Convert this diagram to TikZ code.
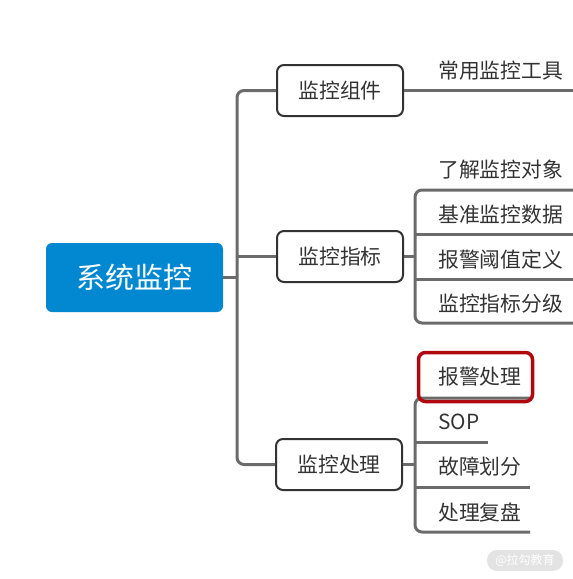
\documentclass[tikz,border=0pt]{standalone}
\usepackage{fontspec}
\setmainfont{Noto Sans CJK SC}
\begin{document}
\begin{tikzpicture}[x=1pt,y=-1pt,
  conn/.style={draw=linegray,line width=3pt},
  topic/.style={draw=boxdark,line width=2pt,rounded corners=7pt,minimum width=126pt,minimum height=51pt,inner sep=0pt,font=\fontsize{20.8}{22}\selectfont,text=textdark},
  leaf/.style={anchor=west,inner sep=0pt,font=\fontsize{20.8}{22}\selectfont,text=textdark}]
\definecolor{linegray}{HTML}{6B6B6B}
\definecolor{boxdark}{HTML}{333333}
\definecolor{textdark}{HTML}{333333}
\definecolor{rootblue}{HTML}{0288D1}
\definecolor{alarmred}{HTML}{B0080E}
\definecolor{wmgray}{HTML}{E3E3E3}
\useasboundingbox (0,0) rectangle (573,579);
% root
\node[fill=rootblue,rounded corners=6pt,minimum width=177pt,minimum height=69pt,inner sep=0pt,text=white,font=\fontsize{29}{31}\selectfont] (root) at (134.5,277.5) {系统监控};
% topics
\node[topic] (b1) at (340,90.5) {监控组件};
\node[topic] (b2) at (340,256.5) {监控指标};
\node[topic] (b3) at (339,464.5) {监控处理};
% trunk
\coordinate (t1) at (237,90.5);
\coordinate (t2) at (237,256.5);
\coordinate (t3) at (237,464.5);
\coordinate (tr) at (237,277.5);
\draw[conn,rounded corners=7pt] (b1.west) -- (t1) -- (t3) -- (b3.west);
\draw[conn] (root.east) -- (tr);
\draw[conn] (t2) -- (b2.west);
% group 1
\node[leaf] (l11) at (438,71) {常用监控工具};
\coordinate (e11) at (573,90.5);
\draw[conn] (b1.east) -- (e11);
% group 2
\node[leaf] (l21) at (438,170) {了解监控对象};
\node[leaf] (l22) at (438,214.5) {基准监控数据};
\node[leaf] (l23) at (438,259.5) {报警阈值定义};
\node[leaf] (l24) at (438,304) {监控指标分级};
\coordinate (v2) at (415,256.5);
\coordinate (v2a) at (415,190);
\coordinate (v2d) at (415,323);
\coordinate (v2b) at (415,234);
\coordinate (v2c) at (415,279);
\coordinate (e21) at (573,190);
\coordinate (e22) at (573,234);
\coordinate (e23) at (573,279);
\coordinate (e24) at (573,323);
\draw[conn,rounded corners=7pt] (e21) -- (v2a) -- (v2d) -- (e24);
\draw[conn] (v2b) -- (e22);
\draw[conn] (v2c) -- (e23);
\draw[conn] (b2.east) -- (v2);
% group 3
\node[leaf] (l31) at (438,377) {报警处理};
\node[leaf] (l32) at (438,422) {SOP};
\node[leaf] (l33) at (438,467) {故障划分};
\node[leaf] (l34) at (438,512) {处理复盘};
\coordinate (v3) at (415,464.5);
\coordinate (v3a) at (415,398);
\coordinate (v3d) at (415,532);
\coordinate (v3b) at (415,442);
\coordinate (v3c) at (415,487);
\coordinate (e31) at (530,398);
\coordinate (e32) at (488,442);
\coordinate (e33) at (530,487);
\coordinate (e34) at (530,532);
\draw[conn,rounded corners=7pt] (e31) -- (v3a) -- (v3d) -- (e34);
\draw[conn] (v3b) -- (e32);
\draw[conn] (v3c) -- (e33);
\draw[conn] (b3.east) -- (v3);
% highlight
\node[draw=alarmred,line width=3.5pt,rounded corners=7pt,minimum width=114pt,minimum height=49pt,inner sep=0pt] (hl) at (475.5,377) {};
% watermark
\node[fill=wmgray,rounded corners=10pt,minimum width=76pt,minimum height=21pt,inner sep=0pt,text=white,font=\fontsize{12}{13}\selectfont] (wm) at (525,560.5) {@拉勾教育};
\end{tikzpicture}
\end{document}
